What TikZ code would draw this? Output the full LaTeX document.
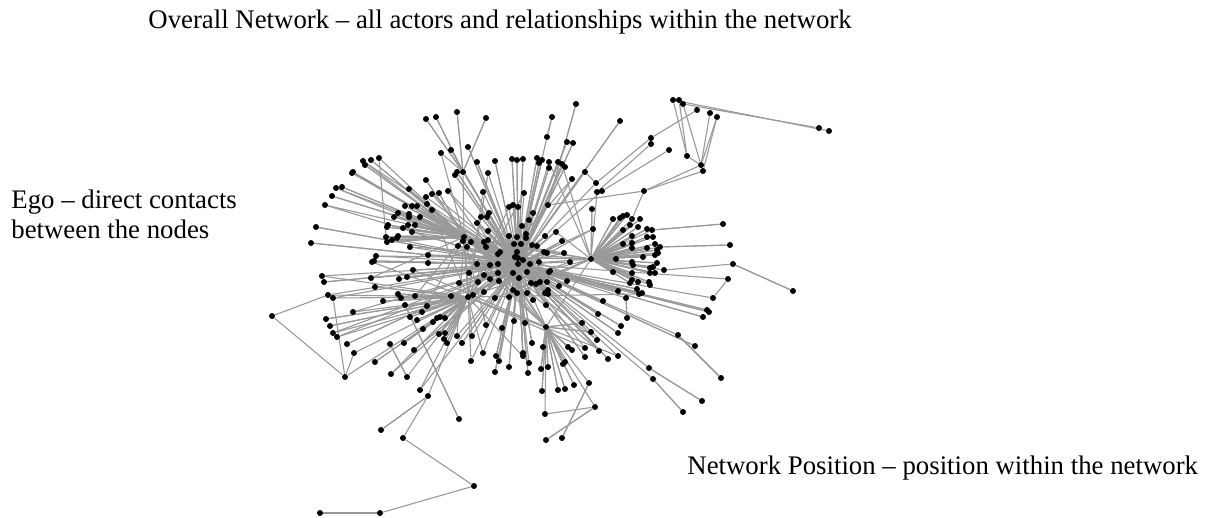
\documentclass[tikz,border=0pt]{standalone}
\usepackage{fontspec}
\setmainfont{Liberation Serif}
\pgfdeclarelayer{edges}
\pgfsetlayers{edges,main}
% actors: x / y / first contact / second contact
\def\actorlist{
  426/119/T/T, 436/117/T/T, 457/112/T/T, 486/118/T/T, 552/117/t6/t6,
  441/153/C/T, 451/150/A/A, 468/147/A/A, 477/162/A/A, 495/161/A/A,
  512/159/A/A, 517/160/A/A, 523/159/A/A, 537/158/A/A, 542/160/A/A,
  549/162/A/B, 539/163/A/A, 549/168/A/A, 558/162/A/A, 562/164/A/B,
  565/167/A/A, 567/142/A/A, 573/143/A/A, 576/104/g1/g1, 620/121/A/A,
  585/172/A/f1, 572/179/A/D, 455/175/A/A, 457/172/A/A, 488/173/A/D,
  363/161/C/A, 365/165/C/C, 371/160/C/C, 379/158/C/c1, 352/173/C/A,
  353/172/C/C, 336/188/C/A, 342/187/C/C, 332/196/C/C, 325/205/C/A,
  316/227/A/A, 311/243/A/A, 426/180/C/C, 409/189/C/C, 426/197/A/D,
  432/194/A/E, 439/193/C/C, 448/191/A/E, 483/192/A/D, 524/193/A/D,
  405/206/C/C, 412/206/C/C, 417/206/C/A, 427/204/C/C, 432/210/A/A,
  398/213/C/C, 409/214/C/C, 394/217/C/C, 409/217/C/C, 420/217/C/A,
  388/225/C/C, 387/227/C/C, 403/228/C/C, 408/225/C/C, 415/225/C/C,
  412/232/A/B, 387/242/C/C, 392/240/C/C, 397/238/C/C, 398/236/C/C,
  410/247/A/B,
  477/223/A/E, 481/217/A/A, 487/217/A/A, 489/213/A/A, 509/207/A/D,
  513/205/A/A, 518/207/A/A, 533/213/A/D, 529/220/A/A, 522/226/A/A,
  488/231/A/A, 509/236/A/A, 517/237/A/A, 526/234/A/A, 526/238/A/A,
  545/236/A/D, 556/232/A/B, 463/241/A/A, 471/242/A/A, 458/246/A/E,
  467/247/A/E, 484/242/A/A, 488/240/A/A, 486/247/A/A, 514/244/A/A,
  521/244/A/A, 532/245/A/A, 537/246/A/A, 544/252/A/A, 547/253/A/C,
  428/255/A/B, 376/256/A/B, 498/254/A/A, 500/252/A/A, 517/252/A/A,
  515/257/A/A, 372/262/A/E, 374/261/A/A, 428/263/A/A, 490/265/A/A,
  477/264/A/A, 498/264/A/A, 518/258/A/A, 523/260/A/A, 530/264/A/A,
  539/262/A/C, 550/271/A/C, 413/270/A/E, 322/276/A/D, 324/282/A/A,
  371/278/A/C, 399/279/A/A, 407/277/A/A, 459/283/A/A, 469/273/A/A,
  478/282/A/A, 484/275/A/A, 490/279/A/A, 499/281/A/A, 498/273/A/A,
  513/273/A/A, 519/278/A/A, 527/272/A/A, 531/283/A/A, 536/284/A/C,
  548/290/A/A, 375/287/D/D, 398/294/D/D, 401/298/D/D, 415/296/A/C,
  451/296/A/B, 473/295/A/A, 484/292/A/A, 495/298/A/B, 509/297/A/B,
  513/290/A/B, 517/293/A/A, 527/293/A/A, 533/300/A/C, 545/293/A/C,
  383/301/D/D, 427/306/A/C,
  592/209/B/B, 613/219/B/B, 620/218/B/B, 623/216/B/B, 627/215/B/B,
  632/219/B/G, 640/219/B/B, 630/225/B/B, 638/227/B/B, 623/230/B/B,
  647/229/B/B, 723/224/b652/b652, 593/229/A/D, 632/236/B/B, 647/237/B/B,
  653/237/B/B, 562/241/A/D, 623/244/B/B, 632/243/B/B, 655/244/B/B,
  730/245/b660/b660, 564/253/A/C, 632/248/B/B, 647/248/B/B, 657/250/B/B,
  658/253/B/B, 616/259/B/B, 570/262/A/D, 632/262/B/B, 633/265/B/B,
  643/257/B/B, 655/255/B/B, 657/263/B/B, 653/267/B/B, 650/268/B/B,
  613/272/B/B, 549/272/A/A, 632/273/B/B, 650/273/B/B, 655/273/B/B,
  540/282/A/A, 547/282/A/A, 567/281/A/C, 632/280/B/B, 630/283/B/B,
  638/282/B/B, 649/282/B/B, 650/285/B/B, 559/286/A/A, 793/291/U/U,
  618/291/A/C, 637/289/A/A, 639/294/A/D, 642/293/A/A, 548/294/A/A,
  603/301/A/C, 707/310/A/A, 709/312/A/A, 703/317/A/A, 546/305/A/A,
  627/318/nr/nr, 598/314/A/A, 582/323/E/E, 621/326/A/A, 618/333/A/A,
  591/332/E/E, 597/340/A/C, 695/346/A/A, 721/378/W1/W1, 543/347/E/E,
  568/347/E/E, 572/350/E/E, 585/348/A/D, 585/357/A/A, 599/351/A/C,
  608/359/A/A, 618/356/A/D, 702/401/W2/W2, 683/412/W3/W3, 565/362/E/E,
  563/364/E/E, 548/367/E/E, 541/369/E/E, 574/385/E/E, 558/390/E/E,
  565/389/E/E, 542/391/E/E, 545/414/E/e595, 546/440/e595/e595, 562/438/e589/e589,
  353/312/A/D, 326/319/D/D, 330/326/D/D, 333/333/D/A, 337/337/D/A,
  347/344/A/A, 375/362/D/D, 390/344/q1/q1, 404/343/D/A, 414/350/A/A,
  391/374/D/A, 420/390/A/D, 381/430/M/M, 459/419/m2/m2, 320/513/Q/Q,
  422/312/D/D, 410/317/D/D, 417/320/D/D, 433/322/D/D, 437/318/D/D,
  445/318/D/D, 440/317/D/D, 423/329/D/D, 439/334/D/D, 445/333/D/D,
  444/339/D/D, 447/343/D/D, 457/336/A/C, 462/343/A/A, 472/336/A/C,
  486/325/A/C, 502/328/A/A, 514/321/A/A, 525/323/A/A, 532/343/A/A,
  471/361/A/D, 483/353/A/D, 496/356/A/A, 499/361/A/A, 509/367/A/A,
  495/372/A/A, 523/353/A/A, 523/356/A/A, 529/363/A/D, 528/373/A/A}
\begin{document}
\begin{tikzpicture}[x=0.5pt,y=-0.5pt,
  dot/.style={circle,fill=black,draw=none,inner sep=0pt,minimum size=3pt},
  link/.style={draw=black!40,line width=0.55pt},
  txt/.style={inner sep=0pt,font=\fontsize{13.4}{15}\selectfont}]
\useasboundingbox (0,0) rectangle (1211,518);

% hubs and relay actors
\foreach \n/\x/\y in {A/518/264, B/591/259, C/464/237, D/468/297, E/546/327,
  T/463/172, t6/547/137, g1/548/205, f1/596/183, f2/597/192, f3/602/191, c1/386/237,
  G/644/191, H/701/165, Hs1/687/156, Hs2/703/171, K1/651/138, K2/651/144, K3/669/150,
  tr1/673/100, tr2/679/100, tr3/683/104, tr4/697/110, tr5/710/113, tr6/717/117,
  far1/819/128, far2/829/131,
  b652/652/230, b660/660/247, b664/664/270, U/733/264, V2/728/279, V/713/298, nr/626/298,
  W1/678/335, W2/649/368, W3/653/379, e595/595/407, e589/589/383,
  S/272/316, R/345/377, s1/328/295, s2/333/298, s3/354/353, M/428/396, m1/403/438,
  P/474/486, Q/380/513, m2/405/305, q1/407/377}
  \node[dot] (\n) at (\x,\y) {};

% all other actors
\foreach \x/\y/\t/\u [count=\i] in \actorlist
  \node[dot] (v\i) at (\x,\y) {};

\begin{pgfonlayer}{edges}
\foreach \a/\b in {A/B, A/C, A/D, A/E, C/D, D/E, B/E, C/T, C/B,
  T/A, t6/A, g1/A, f1/A, f2/B, f3/A, c1/C, c1/A,
  G/g1, H/G, Hs2/G, Hs1/H, K1/f1, K2/f2, K3/f3,
  tr1/far2, tr1/Hs1, tr2/Hs1, tr3/far1, tr3/H, tr4/K1, tr5/H, tr6/H, tr6/Hs2,
  b652/B, b660/B, b664/B, U/b664, V2/A, V/V2, V/A, nr/A,
  W1/A, W2/A, W3/A, e595/E, e589/E,
  S/s1, S/R, s1/D, s2/D, s1/A, s2/A, s2/R, s3/D, R/s3, R/D,
  M/D, m1/M, P/m1, Q/P, m2/D, q1/D}
  \draw[link] (\a) -- (\b);
\foreach \x/\y/\t/\u [count=\i] in \actorlist {
  \draw[link] (v\i) -- (\t);
  \draw[link] (v\i) -- (\u);
}
\end{pgfonlayer}

% captions
\node[txt,anchor=base west] (title) at (148,29)
  {Overall Network – all actors and relationships within the network};
\node[txt,anchor=base west] (ego1) at (11,209) {Ego – direct contacts};
\node[txt,anchor=base west] (ego2) at (11,239) {between the nodes};
\node[txt,anchor=base west] (pos) at (687,474)
  {Network Position – position within the network};
\end{tikzpicture}
\end{document}
